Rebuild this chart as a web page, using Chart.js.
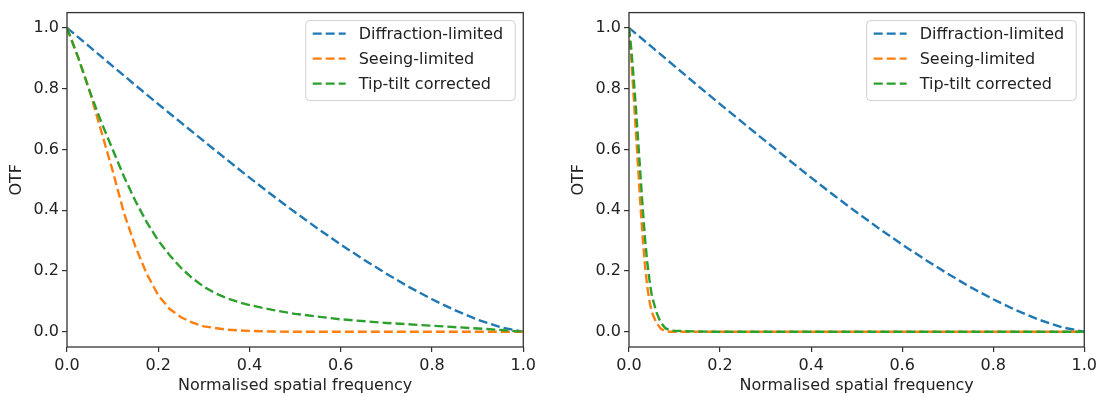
<!DOCTYPE html>
<html>
<head>
<meta charset="utf-8">
<script src="https://cdn.jsdelivr.net/npm/chart.js@4.4.0/dist/chart.umd.min.js"></script>
<style>
  html, body { margin: 0; padding: 0; background: #fff; width: 1101px; height: 396px; overflow: hidden; }
  canvas { position: absolute; top: 0; }
  #left { left: 0; }
  #right { left: 562px; }
</style>
</head>
<body>
<canvas id="left" width="540" height="396"></canvas>
<canvas id="right" width="539" height="396"></canvas>
<script>
const seriesLabels = ['Diffraction-limited', 'Seeing-limited', 'Tip-tilt corrected']
const seriesColors = ['#1f77b4', '#ff7f0e', '#2ca02c']
const xTicks = [0, 0.2, 0.4, 0.6, 0.8, 1.0]
const yTicks = [0, 0.2, 0.4, 0.6, 0.8, 1.0]

// diffraction-limited curve, same in both panels
const freqDiffraction = [0, 0.05, 0.1, 0.15, 0.2, 0.25, 0.3, 0.35, 0.4, 0.45, 0.5, 0.55, 0.6, 0.65, 0.7, 0.75, 0.8, 0.85, 0.9, 0.95, 1.0]
const otfDiffraction = [1.0, 0.937, 0.874, 0.811, 0.749, 0.688, 0.627, 0.567, 0.507, 0.449, 0.393, 0.339, 0.287, 0.238, 0.191, 0.147, 0.107, 0.071, 0.040, 0.015, 0.0]

// left panel
const freqSeeingA = [0, 0.025, 0.05, 0.075, 0.1, 0.125, 0.15, 0.175, 0.2, 0.225, 0.25, 0.275, 0.3, 0.35, 0.4, 0.45, 0.5, 0.6, 0.7, 0.8, 0.9, 1.0]
const otfSeeingA = [1.0, 0.90, 0.79, 0.66, 0.53, 0.39, 0.28, 0.19, 0.12, 0.075, 0.048, 0.03, 0.018, 0.007, 0.003, 0.001, 0, 0, 0, 0, 0, 0]
const freqTiptiltA = [0, 0.025, 0.05, 0.075, 0.1, 0.125, 0.15, 0.175, 0.2, 0.225, 0.25, 0.275, 0.3, 0.325, 0.35, 0.375, 0.4, 0.45, 0.5, 0.6, 0.7, 0.8, 0.9, 0.95, 1.0]
const otfTiptiltA = [1.0, 0.90, 0.79, 0.69, 0.60, 0.51, 0.43, 0.36, 0.30, 0.252, 0.21, 0.176, 0.148, 0.127, 0.111, 0.098, 0.088, 0.072, 0.059, 0.041, 0.029, 0.02, 0.011, 0.006, 0.0]

// right panel
const freqSeeingB = [0, 0.005, 0.01, 0.015, 0.02, 0.025, 0.03, 0.035, 0.04, 0.045, 0.05, 0.06, 0.07, 0.08, 0.09, 0.1, 0.2, 0.4, 0.6, 0.8, 1.0]
const otfSeeingB = [1.0, 0.90, 0.78, 0.66, 0.54, 0.42, 0.31, 0.22, 0.15, 0.10, 0.065, 0.03, 0.01, 0.002, 0, 0, 0, 0, 0, 0, 0]
const freqTiptiltB = [0, 0.005, 0.01, 0.015, 0.02, 0.025, 0.03, 0.035, 0.04, 0.045, 0.05, 0.06, 0.07, 0.08, 0.09, 0.1, 0.15, 0.2, 0.4, 0.6, 0.8, 1.0]
const otfTiptiltB = [1.0, 0.93, 0.84, 0.74, 0.63, 0.52, 0.41, 0.31, 0.23, 0.17, 0.12, 0.065, 0.03, 0.012, 0.005, 0.003, 0.001, 0, 0, 0, 0, 0]

const FONT = 'DejaVu Sans'
const INK = '#222'
const DASH = [9, 4]

const zip = (xs, ys) => xs.map((x, i) => ({ x, y: ys[i] }))

const makeDataset = (i, xs, ys) => ({
  label: seriesLabels[i],
  data: zip(xs, ys),
  borderColor: seriesColors[i],
  borderWidth: 2.4,
  borderDash: DASH,
  pointRadius: 0,
  tension: 0,
  fill: false,
  order: 2 - i
})

// axes frame on all four sides + matplotlib-like legend in the upper right
const frameAndLegend = {
  id: 'frameAndLegend',
  afterDatasetsDraw(chart) {
    const { ctx, chartArea: a } = chart
    ctx.save()
    ctx.strokeStyle = '#333'
    ctx.lineWidth = 1.3
    ctx.setLineDash([])
    ctx.strokeRect(a.left, a.top, a.right - a.left, a.bottom - a.top)

    ctx.font = '16px "' + FONT + '"'
    const textW = Math.max(...chart.data.datasets.map(d => ctx.measureText(d.label).width))
    const w = 7 + 33 + 13 + textW + 12
    const h = 80
    const bx = a.right - 8 - w
    const by = a.top + 8
    ctx.beginPath()
    ctx.roundRect(bx, by, w, h, 4)
    ctx.fillStyle = 'rgba(255,255,255,0.8)'
    ctx.fill()
    ctx.strokeStyle = '#d0d0d0'
    ctx.lineWidth = 1
    ctx.stroke()

    chart.data.datasets.forEach((d, i) => {
      const y = by + 13 + i * 25
      ctx.beginPath()
      ctx.setLineDash(DASH)
      ctx.strokeStyle = d.borderColor
      ctx.lineWidth = 2.4
      ctx.moveTo(bx + 7, y)
      ctx.lineTo(bx + 7 + 33, y)
      ctx.stroke()
      ctx.setLineDash([])
      ctx.fillStyle = INK
      ctx.textBaseline = 'middle'
      ctx.textAlign = 'left'
      ctx.fillText(d.label, bx + 7 + 33 + 13, y + 1)
    })
    ctx.restore()
  }
}

const makeOptions = (rightPad) => ({
  responsive: false,
  animation: false,
  devicePixelRatio: 1,
  layout: { padding: { top: 7, right: rightPad, bottom: 0, left: 0 } },
  plugins: { legend: { display: false }, tooltip: { enabled: false } },
  scales: {
    x: {
      type: 'linear',
      min: 0,
      max: 1,
      afterBuildTicks: s => { s.ticks = xTicks.map(v => ({ value: v })) },
      afterFit: s => { s.height = 49 },
      grid: { drawOnChartArea: false, drawTicks: true, tickLength: 5, tickColor: '#333', lineWidth: 1.2 },
      border: { display: false },
      ticks: {
        autoSkip: false, maxRotation: 0, padding: 4, color: INK,
        font: { family: FONT, size: 16 },
        callback: v => v.toFixed(1)
      },
      title: {
        display: true, text: 'Normalised spatial frequency', color: INK,
        font: { family: FONT, size: 16 }, padding: { top: 0, bottom: 1 }
      }
    },
    y: {
      type: 'linear',
      min: -0.05,
      max: 1.05,
      afterBuildTicks: s => { s.ticks = yTicks.map(v => ({ value: v })) },
      afterFit: s => { s.width = 67 },
      grid: { drawOnChartArea: false, drawTicks: true, tickLength: 5, tickColor: '#333', lineWidth: 1.2 },
      border: { display: false },
      ticks: {
        autoSkip: false, padding: 3, color: INK,
        font: { family: FONT, size: 16 },
        callback: v => v.toFixed(1)
      },
      title: {
        display: true, text: 'OTF', color: INK,
        font: { family: FONT, size: 16 }, padding: { top: 7, bottom: 0 }
      }
    }
  }
})

new Chart(document.getElementById('left'), {
  type: 'line',
  data: {
    datasets: [
      makeDataset(0, freqDiffraction, otfDiffraction),
      makeDataset(1, freqSeeingA, otfSeeingA),
      makeDataset(2, freqTiptiltA, otfTiptiltA)
    ]
  },
  options: makeOptions(16),
  plugins: [frameAndLegend]
})

new Chart(document.getElementById('right'), {
  type: 'line',
  data: {
    datasets: [
      makeDataset(0, freqDiffraction, otfDiffraction),
      makeDataset(1, freqSeeingB, otfSeeingB),
      makeDataset(2, freqTiptiltB, otfTiptiltB)
    ]
  },
  options: makeOptions(14),
  plugins: [frameAndLegend]
})
</script>
</body>
</html>
